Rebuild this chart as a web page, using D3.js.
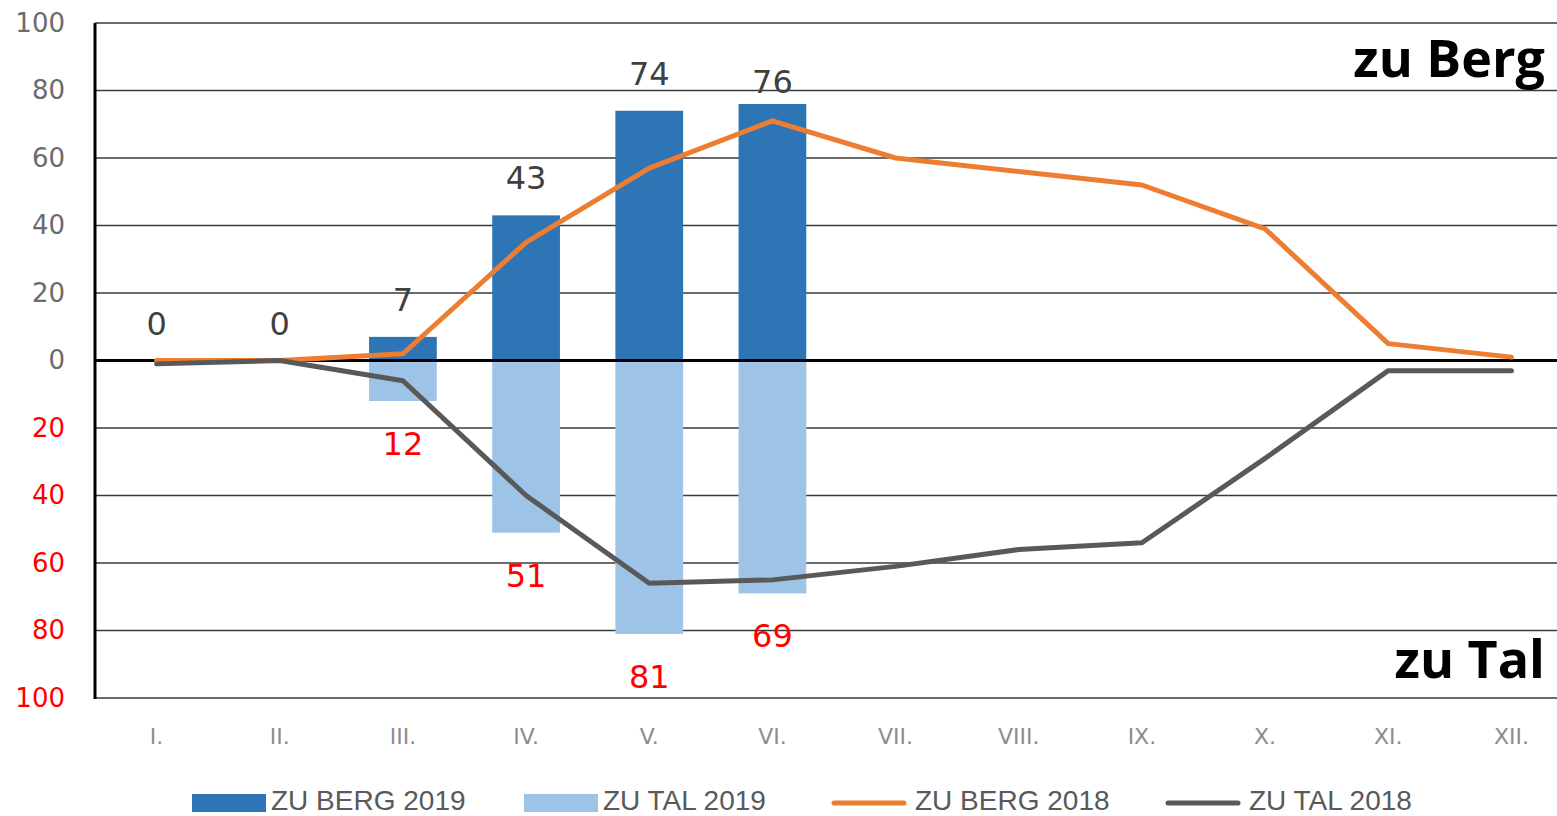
<!DOCTYPE html>
<html>
<head>
<meta charset="utf-8">
<script src="https://d3js.org/d3.v7.min.js"></script>
<style>
	body { margin: 0; background: #fff; }
</style>
</head>
<body>
<div id="chart_area"></div>
<script>

//data
var sMonths = ["I.", "II.", "III.", "IV.", "V.", "VI.", "VII.", "VIII.", "IX.", "X.", "XI.", "XII."];
var sBerg2019 = [0, 0, 7, 43, 74, 76];
var sTal2019 = [0, 0, 12, 51, 81, 69];
var sBerg2018 = [0, 0, 2, 35, 57, 71, 60, 56, 52, 39, 5, 1];
var sTal2018 = [1, 0, 6, 40, 66, 65, 61, 56, 54, 29, 3, 3];
var sTicks = [100, 80, 60, 40, 20, 0, -20, -40, -60, -80, -100];
var sLegend = ["ZU BERG 2019", "ZU TAL 2019", "ZU BERG 2018", "ZU TAL 2018"];

//get the area
var sChartArea = d3.select("#chart_area");
var sFrame = sChartArea.append("svg");
var sFrameWidth = 1557;
var sFrameHeight = 816;
sFrame.attr("width", sFrameWidth);
sFrame.attr("height", sFrameHeight);

//scales
var sX = d3.scaleBand().domain(sMonths).range([95, 1573]).paddingInner(0.45).paddingOuter(0.225);
var sXc = function(d) { return sX(d) + sX.bandwidth() / 2; };
var sY = d3.scaleLinear().domain([-100, 100]).range([698, 23]);

//grid lines
sFrame.append("g").selectAll("line").data(sTicks).join("line")
	.attr("x1", 95).attr("x2", sFrameWidth)
	.attr("y1", d => sY(d)).attr("y2", d => sY(d))
	.attr("stroke", "#3a3a3a")
	.attr("stroke-width", 1.5);

//y axis with absolute labels
var sYAxis = sFrame.append("g")
	.attr("transform", "translate(95,0)")
	.call(d3.axisLeft(sY).tickValues(sTicks).tickSize(0).tickPadding(30).tickFormat(d => Math.abs(d)));
sYAxis.select(".domain").remove();
sYAxis.selectAll("text")
	.attr("font-family", "DejaVu Sans")
	.attr("font-size", 26)
	.attr("fill", d => d < 0 ? "#ff0000" : "#6b6b6b");

//bars
var sColors = ["#2e75b6", "#9dc3e6", "#ed7d31", "#595959"];
sFrame.append("g").selectAll("rect").data(sBerg2019).join("rect")
	.attr("x", (d, i) => sX(sMonths[i]))
	.attr("width", sX.bandwidth())
	.attr("y", d => sY(d))
	.attr("height", d => sY(0) - sY(d))
	.attr("fill", sColors[0]);
sFrame.append("g").selectAll("rect").data(sTal2019).join("rect")
	.attr("x", (d, i) => sX(sMonths[i]))
	.attr("width", sX.bandwidth())
	.attr("y", sY(0))
	.attr("height", d => sY(-d) - sY(0))
	.attr("fill", sColors[1]);

//zero line and left axis
sFrame.append("line")
	.attr("x1", 95).attr("x2", sFrameWidth)
	.attr("y1", sY(0)).attr("y2", sY(0))
	.attr("stroke", "#000").attr("stroke-width", 3);
sFrame.append("line")
	.attr("x1", 95).attr("x2", 95)
	.attr("y1", sY(100)).attr("y2", sY(-100) + 1)
	.attr("stroke", "#000").attr("stroke-width", 3);

//lines 2018
var sLine = d3.line().x((d, i) => sXc(sMonths[i])).y(d => sY(d));
sFrame.append("path").datum(sBerg2018)
	.attr("d", sLine)
	.attr("fill", "none").attr("stroke", sColors[2]).attr("stroke-width", 5)
	.attr("stroke-linejoin", "round").attr("stroke-linecap", "round");
sFrame.append("path").datum(sTal2018.map(d => -d))
	.attr("d", sLine)
	.attr("fill", "none").attr("stroke", sColors[3]).attr("stroke-width", 5)
	.attr("stroke-linejoin", "round").attr("stroke-linecap", "round");

//value labels (the tallest one gets pushed down a bit, as in the original)
var sBergMax = d3.max(sBerg2019);
sFrame.append("g").selectAll("text").data(sBerg2019).join("text")
	.attr("x", (d, i) => sXc(sMonths[i]))
	.attr("y", d => sY(d) - (d === sBergMax ? 11 : 26))
	.attr("text-anchor", "middle")
	.attr("font-family", "DejaVu Sans")
	.attr("font-size", 32)
	.attr("fill", "#404040")
	.text(d => d);
sFrame.append("g").selectAll("text").data(sTal2019.slice(2)).join("text")
	.attr("x", (d, i) => sXc(sMonths[i + 2]))
	.attr("y", d => sY(-d) + 54)
	.attr("text-anchor", "middle")
	.attr("font-family", "DejaVu Sans")
	.attr("font-size", 32)
	.attr("fill", "#ff0000")
	.text(d => d);

//x axis labels
var sXAxis = sFrame.append("g")
	.attr("transform", "translate(0," + sY(-100) + ")")
	.call(d3.axisBottom(sX).tickSize(0).tickPadding(30));
sXAxis.select(".domain").remove();
sXAxis.selectAll("text")
	.attr("font-family", "DejaVu Sans")
	.attr("font-size", 22)
	.attr("fill", "#8c8c8c");

//direction titles
sFrame.append("text").attr("x", 1545).attr("y", 77)
	.attr("text-anchor", "end").attr("font-family", "Open Sans").attr("font-weight", "bold")
	.attr("font-size", 52).attr("fill", "#000").text("zu Berg");
sFrame.append("text").attr("x", 1545).attr("y", 678)
	.attr("text-anchor", "end").attr("font-family", "Open Sans").attr("font-weight", "bold")
	.attr("font-size", 52).attr("fill", "#000").text("zu Tal");

//legend
var sLegendX = [192, 524, 832, 1166];
var sLegendG = sFrame.append("g").selectAll("g").data(sLegend).join("g")
	.attr("transform", (d, i) => "translate(" + sLegendX[i] + ",803)");
sLegendG.filter((d, i) => i < 2).append("rect")
	.attr("x", 0).attr("y", -9).attr("width", 74).attr("height", 18)
	.attr("fill", (d, i) => sColors[i]);
sLegendG.filter((d, i) => i >= 2).append("line")
	.attr("x1", 2).attr("x2", 72).attr("y1", 0).attr("y2", 0)
	.attr("stroke", (d, i) => sColors[i + 2]).attr("stroke-width", 5)
	.attr("stroke-linecap", "round");
sLegendG.append("text")
	.attr("x", (d, i) => i < 2 ? 79 : 83)
	.attr("y", 7)
	.attr("font-family", "Liberation Sans")
	.attr("font-size", 28)
	.attr("fill", "#595959")
	.text(d => d);

</script>
</body>
</html>
